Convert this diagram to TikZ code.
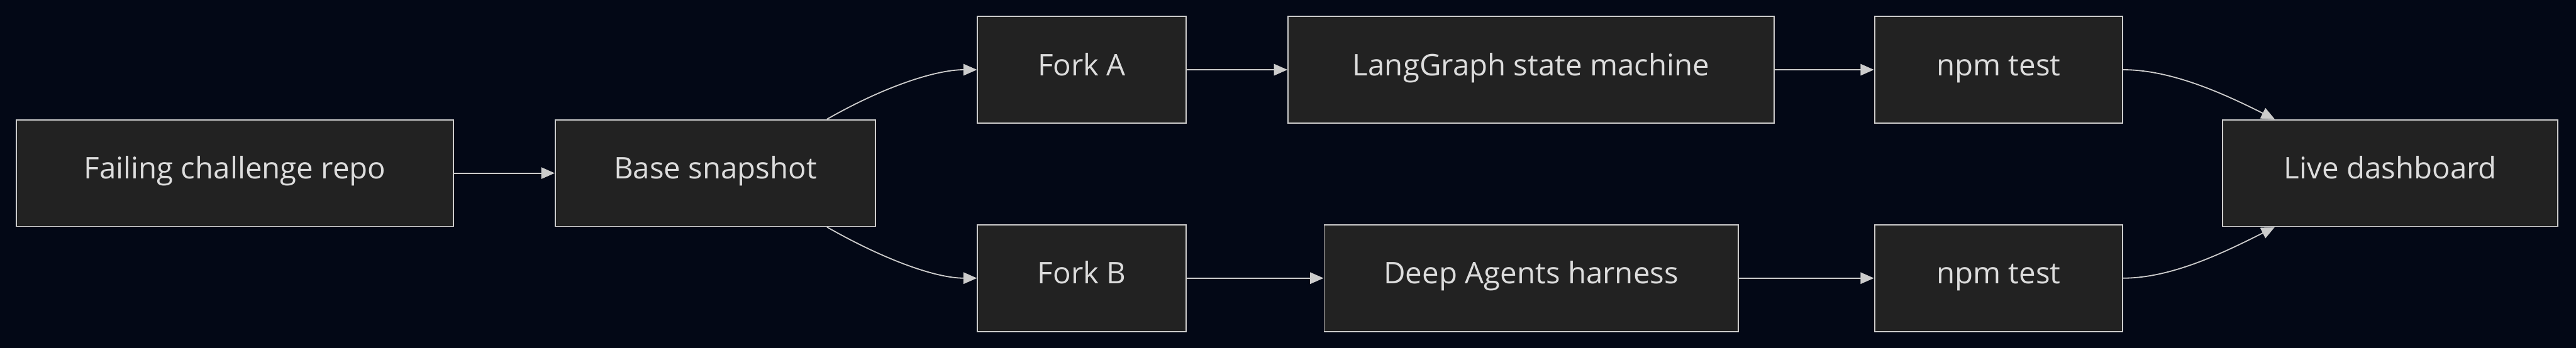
\documentclass[tikz,border=0pt]{standalone}
\usepackage{fontspec}
\setmainfont{Open Sans}
\usetikzlibrary{arrows.meta}
\usetikzlibrary{calc}
\usetikzlibrary{positioning}
\definecolor{bgdark}{HTML}{030816}
\definecolor{boxfill}{HTML}{222222}
\definecolor{boxline}{HTML}{CCCCCC}
\definecolor{txt}{HTML}{DDDDDD}
\begin{document}
\begin{tikzpicture}[x=0.03cm,y=0.03cm,
    box/.style={draw=boxline, fill=boxfill, line width=0.6pt, text=txt,
      minimum height=1.95cm, inner sep=0pt, text height=0.95em, text depth=0.35em,
      font=\fontsize{15.5}{18}\selectfont},
    flow/.style={draw=boxline, line width=0.6pt, -{Triangle[length=7pt,width=6pt]}}]
        \fill[bgdark] (0,0) rectangle (1568,212);
        \node[box, minimum width=266*0.03cm] (repo) at (143,106.5) {Failing challenge repo};
        \node[box, minimum width=195*0.03cm] (base) at (435.5,106.5) {Base snapshot};
        \node[box, minimum width=127*0.03cm] (forka) at (658.5,169.5) {Fork A};
        \node[box, minimum width=296*0.03cm] (lang) at (932,169.5) {LangGraph state machine};
        \node[box, minimum width=151*0.03cm] (testa) at (1216.5,169.5) {npm test};
        \node[box, minimum width=127*0.03cm] (forkb) at (658.5,42.5) {Fork B};
        \node[box, minimum width=252*0.03cm] (deep) at (932,42.5) {Deep Agents harness};
        \node[box, minimum width=151*0.03cm] (testb) at (1216.5,42.5) {npm test};
        \node[box, minimum width=204*0.03cm] (live) at (1455,106.5) {Live dashboard};

        \draw[flow] (repo) -- (base);
        \draw[flow] ($(base.north east)+(-30,0)$) .. controls ++(35,20) and ++(-25,0) .. (forka.west);
        \draw[flow] ($(base.south east)+(-30,0)$) .. controls ++(35,-20) and ++(-25,0) .. (forkb.west);
        \draw[flow] (forka) -- (lang);
        \draw[flow] (lang) -- (testa);
        \draw[flow] (forkb) -- (deep);
        \draw[flow] (deep) -- (testb);
        \draw[flow] (testa.east) .. controls ++(30,0) and ++(-30,15) .. ($(live.north west)+(32,0)$);
        \draw[flow] (testb.east) .. controls ++(30,0) and ++(-30,-15) .. ($(live.south west)+(32,0)$);
\end{tikzpicture}
\end{document}
